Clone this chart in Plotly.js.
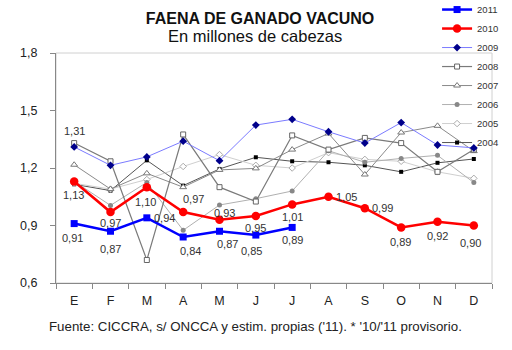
<!DOCTYPE html>
<html>
<head>
<meta charset="utf-8">
<script src="https://cdn.plot.ly/plotly-3.0.1.min.js"></script>
<style>html,body{margin:0;padding:0;background:#fff}#chart{width:512px;height:350px}</style>
</head>
<body>
<div id="chart"></div>
<script>
// ---- data ----
const months = ["E","F","M","A","M ","J","J ","A ","S","O","N","D"];
const monthLabels = ["E","F","M","A","M","J","J","A","S","O","N","D"];
const y2011 = [0.91,0.87,0.94,0.84,0.87,0.85,0.89];
const y2010 = [1.13,0.97,1.10,0.97,0.93,0.95,1.01,1.05,0.99,0.89,0.92,0.90];
const y2009 = [1.31,1.214,1.258,1.34,1.238,1.424,1.454,1.389,1.33,1.437,1.32,1.305];
const y2008 = [1.33,1.235,0.72,1.375,1.10,1.025,1.37,1.296,1.357,1.33,1.18,1.296];
const y2007 = [1.217,1.09,1.172,1.10,1.19,1.198,1.296,1.38,1.166,1.385,1.42,1.288];
const y2006 = [1.13,1.005,1.125,0.875,1.007,1.04,1.08,1.29,1.23,1.25,1.266,1.124];
const y2005 = [1.12,1.09,1.14,1.208,1.27,1.214,1.20,1.28,1.245,1.235,1.18,1.146];
const y2004 = [1.115,1.082,1.24,1.108,1.195,1.256,1.235,1.23,1.214,1.18,1.227,1.247];
const titleText = "FAENA DE GANADO VACUNO";
const subtitleText = "En millones de cabezas";
const footer = "Fuente: CICCRA, s/ ONCCA y estim. propias ('11). * '10/'11 provisorio.";

// ---- styles ----
const FONT = "Arial, 'Liberation Sans', sans-serif";
const lbl2011Shift = [[-2,-14],[0,-18],[18,0],[7,-14],[8,-13],[-4,-16],[0,-13]];
const lbl2010Shift = [[-1,-14],[0,-11],[-1,-15],[10,13],[5,7],[0,-12],[0,-13],[18,0],[18,0],[-1,-15],[0,-14],[-3,-17]];

function tr(name, y, line, marker){
  return {type:'scatter', mode:'lines+markers', name:name,
    x: months.slice(0, y.length), y:y, line:line, marker:marker, hoverinfo:'skip'};
}
const traces = [
  tr("2004", y2004, {color:'#555', width:1}, {symbol:'square', size:4, color:'#000'}),
  tr("2005", y2005, {color:'#cfcfcf', width:1}, {symbol:'diamond', size:5, color:'#fff', line:{color:'#aaa', width:1}}),
  tr("2006", y2006, {color:'#b0b0b0', width:1}, {symbol:'circle', size:5, color:'#888'}),
  tr("2007", y2007, {color:'#8a8a8a', width:1}, {symbol:'triangle-up', size:6, color:'#fff', line:{color:'#777', width:1}}),
  tr("2008", y2008, {color:'#7a7a7a', width:1.2}, {symbol:'square', size:5, color:'#fff', line:{color:'#666', width:1}}),
  tr("2009", y2009, {color:'#7b7bff', width:1}, {symbol:'diamond', size:6, color:'#00008b'}),
  tr("2010", y2010, {color:'#ff0000', width:2.5}, {symbol:'circle', size:8.5, color:'#ff0000'}),
  tr("2011", y2011, {color:'#0000ff', width:2.5}, {symbol:'square', size:7, color:'#0000ff'})
];

const fmt = v => v.toFixed(2).replace('.', ',');
const annotations = [];
y2011.forEach((v,i)=>annotations.push({x:months[i], y:v, text:fmt(v), showarrow:false,
  xshift:lbl2011Shift[i][0], yshift:lbl2011Shift[i][1], font:{family:FONT, size:11, color:'#333'}}));
y2010.forEach((v,i)=>annotations.push({x:months[i], y:v, text:fmt(v), showarrow:false,
  xshift:lbl2010Shift[i][0], yshift:lbl2010Shift[i][1], font:{family:FONT, size:11, color:'#333'}}));
annotations.push({x:months[0], y:y2009[0], text:fmt(y2009[0]), showarrow:false, xshift:0, yshift:16,
  font:{family:FONT, size:11, color:'#333'}});
annotations.push({xref:'paper', yref:'paper', x:0.457, y:1.074, yanchor:'middle', text:subtitleText, showarrow:false,
  font:{family:FONT, size:16.5, color:'#111'}});
annotations.push({xref:'paper', yref:'paper', x:0.458, y:-0.19, yanchor:'middle', text:footer, showarrow:false,
  font:{family:FONT, size:13.3, color:'#222'}});

const layout = {
  width:512, height:350,
  margin:{l:56, r:20, t:53, b:67, autoexpand:false},
  paper_bgcolor:'#fff', plot_bgcolor:'#fff',
  separators:',.',
  font:{family:FONT, color:'#222'},
  title:{text:'<b>'+titleText+'</b>', font:{family:FONT, size:16, color:'#111'},
    x:0.508, xanchor:'center', xref:'container', yref:'container', y:0.948, yanchor:'middle'},
  xaxis:{type:'category', categoryorder:'array', categoryarray:months, tickvals:months, ticktext:monthLabels,
    range:[-0.5, 11.5], tickson:'boundaries', ticks:'outside', ticklen:5, tickcolor:'#888',
    showline:true, linecolor:'#888', linewidth:1, showgrid:false, zeroline:false, ticklabelstandoff:6,
    tickfont:{family:FONT, size:12.5, color:'#222'}, fixedrange:true},
  yaxis:{range:[0.6,1.8], tickvals:[0.6,0.9,1.2,1.5,1.8], tickformat:'.1f', ticks:'outside', ticklen:5,
    tickcolor:'#888', showline:true, linecolor:'#888', linewidth:1, showgrid:false, zeroline:false,
    ticklabelstandoff:10, tickfont:{family:FONT, size:12.5, color:'#222'}, fixedrange:true},
  shapes:[{type:'rect', xref:'paper', yref:'paper', x0:0, x1:1, y0:0, y1:1, line:{color:'#d0d0d0', width:1}, layer:'below'}],
  showlegend:true,
  legend:{traceorder:'reversed', x:0.874, xanchor:'left', y:1.252, yanchor:'top', bgcolor:'rgba(0,0,0,0)',
    font:{family:FONT, size:9.5, color:'#333'}, itemwidth:30},
  annotations:annotations
};
Plotly.newPlot('chart', traces, layout, {staticPlot:true, displayModeBar:false});
</script>
</body>
</html>
